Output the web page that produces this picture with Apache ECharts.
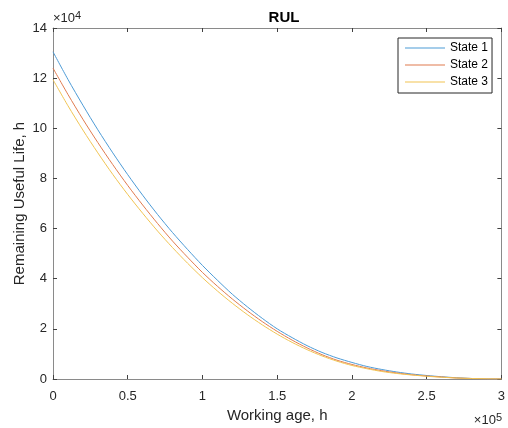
<!DOCTYPE html>
<html>
<head>
<meta charset="utf-8">
<title>RUL</title>
<script src="https://cdn.jsdelivr.net/npm/echarts@6/dist/echarts.min.js"></script>
<style>
  html, body { margin: 0; padding: 0; background: #fff; }
  #chart { width: 508px; height: 428px; }
</style>
</head>
<body>
<div id="chart"></div>
<script>
// working age, x 10^5 h
var workingAge = [0, 0.1, 0.2, 0.3, 0.4, 0.5, 0.6, 0.7, 0.8, 0.9, 1.0, 1.1, 1.2, 1.3, 1.4, 1.5,
  1.6, 1.7, 1.8, 1.9, 2.0, 2.1, 2.2, 2.3, 2.4, 2.5, 2.6, 2.7, 2.8, 2.9, 3.0];
// remaining useful life, x 10^4 h
var state1 = [13.05, 11.95, 10.92, 9.94, 9.02, 8.15, 7.33, 6.56, 5.84, 5.17, 4.53, 3.94, 3.38, 2.88, 2.42, 2.00,
  1.65, 1.33, 1.06, 0.84, 0.66, 0.50, 0.38, 0.28, 0.20, 0.14, 0.09, 0.05, 0.02, 0.00, 0.00];
var state2 = [12.40, 11.35, 10.36, 9.43, 8.55, 7.72, 6.94, 6.20, 5.50, 4.86, 4.25, 3.70, 3.19, 2.72, 2.29, 1.90,
  1.55, 1.24, 0.97, 0.75, 0.58, 0.44, 0.33, 0.24, 0.17, 0.12, 0.08, 0.04, 0.02, 0.00, 0.00];
var state3 = [11.94, 10.90, 9.93, 9.02, 8.16, 7.36, 6.61, 5.90, 5.24, 4.62, 4.04, 3.51, 3.02, 2.57, 2.16, 1.79,
  1.46, 1.17, 0.92, 0.71, 0.54, 0.41, 0.30, 0.22, 0.16, 0.11, 0.07, 0.04, 0.02, 0.01, 0.00];
var seriesNames = ['State 1', 'State 2', 'State 3'];
var seriesColors = ['#4d9bd6', '#e07b4f', '#f1c453'];

var font = 'Liberation Sans, Arial, Helvetica, sans-serif';

function pairs(ys) {
  return workingAge.map(function (x, i) { return [x, ys[i]]; });
}
function tickFmt(v) {
  return String(Math.round(v * 10) / 10);
}

var axisLine = { show: true, onZero: false, lineStyle: { color: '#8a8a8a', width: 1 } };
var axisTick = { show: true, inside: true, length: 4, lineStyle: { color: '#404040' } };

var myChart = echarts.init(document.getElementById('chart'));
var option = {
  backgroundColor: '#fff',
  animation: false,
  title: {
    text: 'RUL',
    left: 279, top: 5, textAlign: 'center',
    textStyle: { fontFamily: font, fontSize: 15, fontWeight: 'bold', color: '#000' }
  },
  legend: {
    data: seriesNames.map(function (n) { return { name: n, icon: 'path://M0,0H40V1H0Z' }; }),
    orient: 'vertical',
    left: 398, top: 38,
    padding: [4, 4, 5, 7],
    itemWidth: 40, itemHeight: 12, itemGap: 5,
    itemTextGap: 3,
    backgroundColor: '#fff',
    borderColor: '#262626', borderWidth: 1,
    textStyle: { fontFamily: font, fontSize: 12, color: '#000', lineHeight: 12 }
  },
  grid: { left: 53, right: 3, top: 28, bottom: 45, containLabel: false },
  xAxis: [{
    type: 'value', min: 0, max: 3, interval: 0.5,
    name: 'Working age, h', nameLocation: 'middle', nameGap: 29, nameMoveOverlap: false,
    nameTextStyle: { fontFamily: font, fontSize: 15, color: '#262626' },
    axisLine: axisLine, axisTick: axisTick, splitLine: { show: false },
    axisLabel: { fontFamily: font, fontSize: 13, color: '#262626', margin: 11, formatter: tickFmt }
  }, {
    type: 'value', position: 'top', min: 0, max: 3, interval: 0.5,
    axisLine: axisLine, axisTick: axisTick, splitLine: { show: false },
    axisLabel: { show: false }
  }],
  yAxis: [{
    type: 'value', min: 0, max: 14, interval: 2,
    name: 'Remaining Useful Life, h', nameLocation: 'middle', nameGap: 26, nameMoveOverlap: false,
    nameTextStyle: { fontFamily: font, fontSize: 15, color: '#262626' },
    axisLine: axisLine, axisTick: axisTick, splitLine: { show: false },
    axisLabel: { fontFamily: font, fontSize: 13, color: '#262626', margin: 6, formatter: tickFmt }
  }, {
    type: 'value', position: 'right', min: 0, max: 14, interval: 2,
    axisLine: axisLine, axisTick: axisTick, splitLine: { show: false },
    axisLabel: { show: false }
  }],
  graphic: [{
    type: 'text', left: 53, top: 10,
    style: {
      text: '×10{s|4}', fontFamily: font, fontSize: 13, fill: '#262626',
      rich: { s: { fontFamily: font, fontSize: 11, verticalAlign: 'top', padding: [0, 0, 6, 0] } }
    }
  }, {
    type: 'text', right: 6, top: 412,
    style: {
      text: '×10{s|5}', fontFamily: font, fontSize: 13, fill: '#262626',
      rich: { s: { fontFamily: font, fontSize: 11, verticalAlign: 'top', padding: [0, 0, 6, 0] } }
    }
  }],
  series: [state1, state2, state3].map(function (ys, i) {
    return {
      name: seriesNames[i], type: 'line', data: pairs(ys),
      smooth: 0.3, symbol: 'none',
      lineStyle: { color: seriesColors[i], width: 1 },
      itemStyle: { color: seriesColors[i] }
    };
  })
};
myChart.setOption(option);
</script>
</body>
</html>
